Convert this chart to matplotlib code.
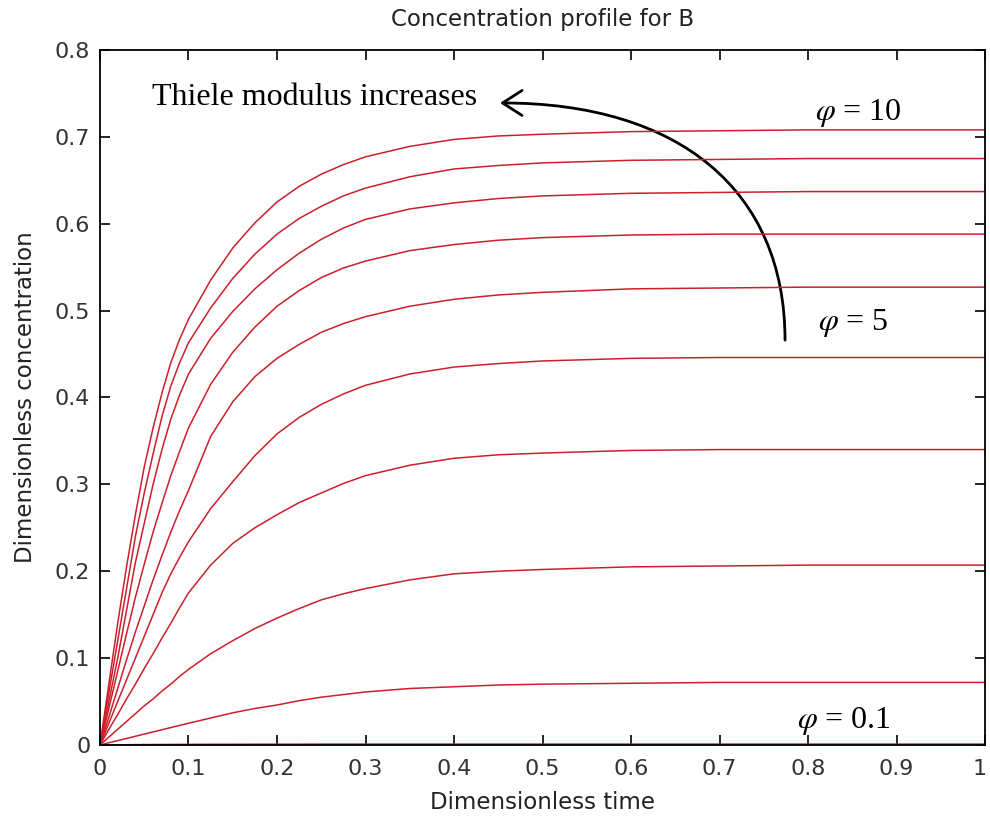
import numpy as np
import matplotlib
matplotlib.use('Agg')
import matplotlib.pyplot as plt
import matplotlib.transforms as mtransforms
from matplotlib.path import Path
from matplotlib.patches import FancyArrowPatch

plt.rcParams['mathtext.fontset'] = 'stix'

# dimensionless time grid
t = [0, 0.01, 0.02, 0.03, 0.04, 0.05, 0.06, 0.07, 0.08, 0.09, 0.1,
     0.125, 0.15, 0.175, 0.2, 0.225, 0.25, 0.275, 0.3,
     0.35, 0.4, 0.45, 0.5, 0.6, 0.7, 0.8, 1.0]

# concentration of B, one list per Thiele modulus (largest first)
c1 = [0, 0.07, 0.14, 0.205, 0.265, 0.32, 0.365, 0.405, 0.44, 0.467, 0.49,
      0.535, 0.572, 0.601, 0.625, 0.643, 0.657, 0.668, 0.677,
      0.689, 0.697, 0.701, 0.703, 0.706, 0.707, 0.708, 0.708]
c2 = [0, 0.06, 0.12, 0.18, 0.24, 0.29, 0.335, 0.378, 0.413, 0.44, 0.463,
      0.503, 0.537, 0.565, 0.588, 0.606, 0.62, 0.632, 0.641,
      0.654, 0.663, 0.667, 0.670, 0.673, 0.674, 0.675, 0.675]
c3 = [0, 0.05, 0.10, 0.155, 0.21, 0.255, 0.30, 0.34, 0.375, 0.403, 0.427,
      0.468, 0.499, 0.525, 0.547, 0.566, 0.582, 0.595, 0.605,
      0.617, 0.624, 0.629, 0.632, 0.635, 0.636, 0.637, 0.637]
c4 = [0, 0.042, 0.085, 0.128, 0.17, 0.208, 0.245, 0.278, 0.31, 0.338, 0.365,
      0.415, 0.452, 0.481, 0.505, 0.523, 0.538, 0.549, 0.557,
      0.569, 0.576, 0.581, 0.584, 0.587, 0.588, 0.588, 0.588]
c5 = [0, 0.032, 0.065, 0.098, 0.13, 0.16, 0.19, 0.218, 0.245, 0.27, 0.293,
      0.355, 0.395, 0.424, 0.445, 0.461, 0.475, 0.485, 0.493,
      0.505, 0.513, 0.518, 0.521, 0.525, 0.526, 0.527, 0.527]
c6 = [0, 0.025, 0.05, 0.075, 0.10, 0.125, 0.15, 0.175, 0.197, 0.216, 0.234,
      0.272, 0.303, 0.333, 0.358, 0.377, 0.392, 0.404, 0.414,
      0.427, 0.435, 0.439, 0.442, 0.445, 0.446, 0.446, 0.446]
c7 = [0, 0.018, 0.035, 0.053, 0.07, 0.088, 0.105, 0.123, 0.14, 0.158, 0.175,
      0.207, 0.232, 0.25, 0.265, 0.279, 0.29, 0.301, 0.31,
      0.322, 0.33, 0.334, 0.336, 0.339, 0.34, 0.34, 0.34]
c8 = [0, 0.009, 0.018, 0.027, 0.036, 0.045, 0.053, 0.062, 0.07, 0.079, 0.087,
      0.105, 0.12, 0.134, 0.146, 0.157, 0.167, 0.174, 0.18,
      0.19, 0.197, 0.2, 0.202, 0.205, 0.206, 0.207, 0.207]
c9 = [0, 0.0025, 0.005, 0.0075, 0.01, 0.0125, 0.015, 0.0175, 0.02, 0.0225, 0.025,
      0.031, 0.037, 0.042, 0.046, 0.051, 0.055, 0.058, 0.061,
      0.065, 0.067, 0.069, 0.070, 0.071, 0.072, 0.072, 0.072]
c10 = [0, 0.0001, 0.0002, 0.0003, 0.0004, 0.0005, 0.0005, 0.0006, 0.0006, 0.0007, 0.0007,
       0.0008, 0.0008, 0.0009, 0.0009, 0.0009, 0.001, 0.001, 0.001,
       0.001, 0.001, 0.001, 0.001, 0.001, 0.001, 0.001, 0.001]
curves = [c1, c2, c3, c4, c5, c6, c7, c8, c9, c10]

xticks = [0, 0.1, 0.2, 0.3, 0.4, 0.5, 0.6, 0.7, 0.8, 0.9, 1]
xticklabels = ['0', '0.1', '0.2', '0.3', '0.4', '0.5', '0.6', '0.7', '0.8', '0.9', '1']
yticks = [0, 0.1, 0.2, 0.3, 0.4, 0.5, 0.6, 0.7, 0.8]
yticklabels = ['0', '0.1', '0.2', '0.3', '0.4', '0.5', '0.6', '0.7', '0.8']

fig = plt.figure(figsize=(9.9, 8.19), dpi=100)
ax = fig.add_axes([0.101, 0.0904, 0.894, 0.8486])

for c in curves:
    ax.plot(t, c, color='#cc1f2b', lw=1.1)

ax.set_xlim(0, 1)
ax.set_ylim(0, 0.8)
ax.set_xticks(xticks)
ax.set_xticklabels(xticklabels)
ax.set_yticks(yticks)
ax.set_yticklabels(yticklabels)
ax.tick_params(direction='in', length=7, width=1.2, top=True, right=True,
               labelsize=16, colors='black')
ax.tick_params(axis='x', pad=10)
ax.tick_params(axis='y', pad=7)
for lab in ax.get_xticklabels() + ax.get_yticklabels():
    lab.set_fontfamily('DejaVu Sans')
    lab.set_color('#333333')
# keep the last x label inside the figure edge
last = ax.get_xticklabels()[-1]
last.set_transform(last.get_transform() +
                   mtransforms.ScaledTranslation(-4 / 72, 0, fig.dpi_scale_trans))
for s in ax.spines.values():
    s.set_linewidth(1.3)

ax.set_title('Concentration profile for B', fontsize=16.5, family='DejaVu Sans',
             color='#222222', pad=17)
ax.set_xlabel('Dimensionless time', fontsize=16.5, family='DejaVu Sans',
              color='#222222', labelpad=9)
ax.set_ylabel('Dimensionless concentration', fontsize=16.5, family='DejaVu Sans',
              color='#222222', labelpad=13)

# annotations
ax.text(0.059, 0.737, 'Thiele modulus increases', fontsize=23,
        family='Liberation Serif', va='baseline')
ax.text(0.808, 0.719, r'$\varphi$ = 10', fontsize=23, family='Liberation Serif', va='baseline')
ax.text(0.811, 0.478, r'$\varphi$ = 5', fontsize=23, family='Liberation Serif', va='baseline')
ax.text(0.787, 0.0196, r'$\varphi$ = 0.1', fontsize=23, family='Liberation Serif', va='baseline')

# curved arrow (quarter of a squarish ellipse)
x0, y0 = 0.774, 0.466
x3, y3 = 0.452, 0.739
k = 0.63
verts = [(x0, y0), (x0, y0 + k * (y3 - y0)), (x3 + k * (x0 - x3), y3), (x3, y3)]
arc = Path(verts, [Path.MOVETO, Path.CURVE4, Path.CURVE4, Path.CURVE4])
arrow = FancyArrowPatch(path=arc, arrowstyle='->,head_length=0.7,head_width=0.45',
                        mutation_scale=20, lw=2.0, color='black',
                        transform=ax.transData)
ax.add_patch(arrow)

fig.savefig('out.png', dpi=100)
